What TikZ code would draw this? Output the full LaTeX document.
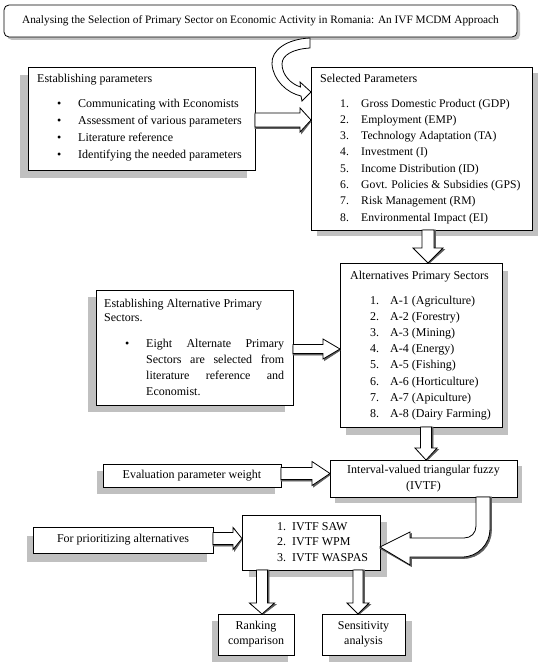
\documentclass[tikz,border=0pt]{standalone}
\usepackage{fontspec}
\setmainfont{Liberation Serif}
\usetikzlibrary{calc}
\definecolor{shadowc}{RGB}{192,192,192}
\definecolor{arrshadc}{RGB}{95,95,95}
\tikzset{
  box/.style={draw=black, line width=0.8pt, fill=white, inner sep=0pt, outer sep=0pt,
    anchor=north west, align=center, font=\fontsize{12}{15}\selectfont},
  txt/.style={inner sep=0pt, anchor=base west, font=\fontsize{12}{14}\selectfont},
  arrbody/.style={draw=black, line width=0.8pt, fill=white, line join=miter},
  arrshadow/.style={fill=arrshadc, draw=arrshadc, line width=0.6pt},
}
% shadow of a box: #1 x, #2 y (top-left), #3 width, #4 height, #5 dx, #6 dy
\newcommand\ShadowAt[6]{\fill[shadowc] ({#1+#5},{#2+#6}) rectangle ({#1+#3+#5},{#2+#4+#6});}
% right-pointing block arrow: #1 start, #2 tip (x only), #3 shaft half width, #4 head half width, #5 head length
\newcommand\RArrow[5]{%
\path[arrshadow] let \p1=#1, \p2=#2 in
 (\x1, \y1+#3-1.5pt) -- (\x2-#5+1.5pt, \y1+#3-1.5pt) -- (\x2-#5+1.5pt, \y1+#4-1.5pt) -- (\x2, \y1-1.5pt)
 -- (\x2-#5+1.5pt, \y1-#4-1.5pt) -- (\x2-#5+1.5pt, \y1-#3-1.5pt) -- (\x1, \y1-#3-1.5pt) -- cycle;
\path[arrbody] let \p1=#1, \p2=#2 in
 (\x1, \y1+#3) -- (\x2-#5, \y1+#3) -- (\x2-#5, \y1+#4) -- (\x2, \y1)
 -- (\x2-#5, \y1-#4) -- (\x2-#5, \y1-#3) -- (\x1, \y1-#3) -- cycle;}
% down-pointing block arrow: #1 start (y only), #2 tip
\newcommand\DArrow[5]{%
\path[arrshadow] let \p1=#1, \p2=#2 in
 (\x2-#3+1.5pt, \y1) -- (\x2-#3+1.5pt, \y2+#5-1.5pt) -- (\x2-#4+1.5pt, \y2+#5-1.5pt) -- (\x2+1.5pt, \y2)
 -- (\x2+#4+1.5pt, \y2+#5-1.5pt) -- (\x2+#3+1.5pt, \y2+#5-1.5pt) -- (\x2+#3+1.5pt, \y1) -- cycle;
\path[arrbody] let \p1=#1, \p2=#2 in
 (\x2-#3, \y1) -- (\x2-#3, \y2+#5) -- (\x2-#4, \y2+#5) -- (\x2, \y2)
 -- (\x2+#4, \y2+#5) -- (\x2+#3, \y2+#5) -- (\x2+#3, \y1) -- cycle;}
\begin{document}
\begin{tikzpicture}[x=1pt,y=-1pt]
\useasboundingbox (0,0) rectangle (550,666);
\fill[white] (0,0) rectangle (550,666);

% ---------- shadows ----------
\fill[shadowc, rounded corners=5pt] (7,8) rectangle (520,40);
\ShadowAt{28}{67}{227}{103}{-8}{8}
\ShadowAt{311}{67}{221}{163}{6}{6}
\ShadowAt{340}{263}{162}{164}{6}{8}
\ShadowAt{96}{290}{197}{115}{-8}{7}
\ShadowAt{103}{464}{178}{23}{-6}{7}
\ShadowAt{330}{460}{187}{37}{5}{6}
\ShadowAt{33}{527}{180}{26}{-6}{9}
\ShadowAt{242}{515}{138}{55}{7}{7}
\ShadowAt{218}{614}{76}{41}{-6}{7}
\ShadowAt{322}{614}{83}{41}{7}{7}

% ---------- boxes ----------
\node[box, rounded corners=5pt, minimum width=513pt, minimum height=32pt, font=\fontsize{11.3}{14}\selectfont] (title) at (4,5)
  {Analysing the Selection of Primary Sector on Economic Activity in Romania: An IVF MCDM Approach};
\node[box, minimum width=227pt, minimum height=103pt] (ep) at (28,67) {};
\node[box, minimum width=221pt, minimum height=163pt] (sp) at (311,67) {};
\node[box, minimum width=162pt, minimum height=164pt] (alt) at (340,263) {};
\node[box, minimum width=197pt, minimum height=115pt] (eap) at (96,290) {};
\node[box, minimum width=178pt, minimum height=23pt] (epw) at (103,464) {Evaluation parameter weight};
\node[box, minimum width=187pt, minimum height=37pt, font=\fontsize{12}{16}\selectfont] (ivtf) at (330,460)
  {Interval-valued triangular fuzzy\\(IVTF)};
\node[box, minimum width=180pt, minimum height=26pt] (fpa) at (33,527) {For prioritizing alternatives};
\node[box, minimum width=138pt, minimum height=55pt] (meth) at (242,515) {};
\node[box, minimum width=76pt, minimum height=41pt] (rank) at (218,614) {Ranking\\comparison};
\node[box, minimum width=83pt, minimum height=41pt] (sens) at (322,614) {Sensitivity\\analysis};

% ---------- texts ----------
\node[txt] (ep-h) at (37,83) {Establishing parameters};
\foreach \t [count=\i] in {{Communicating with Economists},{Assessment of various parameters},{Literature reference},{Identifying the needed parameters}}{
  \node[txt] (ep-b\i) at ({57},{107+17.3*(\i-1)}) {\textbullet};
  \node[txt] (ep-i\i) at ({78},{107+17.3*(\i-1)}) {\t};
}
\node[txt] (sp-h) at (320,83) {Selected Parameters};
\foreach \t [count=\i] in {{Gross Domestic Product (GDP)},{Employment (EMP)},{Technology Adaptation (TA)},{Investment (I)},{Income Distribution (ID)},{Govt. Policies \& Subsidies (GPS)},{Risk Management (RM)},{Environmental Impact (EI)}}{
  \node[txt, font=\fontsize{11.7}{14}\selectfont] (sp-n\i) at ({340},{107+16.3*(\i-1)}) {\i.};
  \node[txt, font=\fontsize{11.7}{14}\selectfont] (sp-i\i) at ({361},{107+16.3*(\i-1)}) {\t};
}
\node[txt] (alt-h) at (350,279) {Alternatives Primary Sectors};
\foreach \t [count=\i] in {{A-1 (Agriculture)},{A-2 (Forestry)},{A-3 (Mining)},{A-4 (Energy)},{A-5 (Fishing)},{A-6 (Horticulture)},{A-7 (Apiculture)},{A-8 (Dairy Farming)}}{
  \node[txt] (alt-n\i) at ({370},{304+16.2*(\i-1)}) {\i.};
  \node[txt] (alt-i\i) at ({390},{304+16.2*(\i-1)}) {\t};
}
\node[txt] (eap-h1) at (104,307) {Establishing Alternative Primary};
\node[txt] (eap-h2) at (104,321) {Sectors.};
\node[txt] (eap-b) at (125,347) {\textbullet};
\node[txt] (eap-p1) at (146,347) {\makebox[138pt][s]{Eight Alternate Primary}};
\node[txt] (eap-p2) at (146,363) {\makebox[138pt][s]{Sectors are selected from}};
\node[txt] (eap-p3) at (146,379.5) {\makebox[138pt][s]{literature reference and}};
\node[txt] (eap-p4) at (146,395) {Economist.};
\foreach \t [count=\i] in {{IVTF SAW},{IVTF WPM},{IVTF WASPAS}}{
  \node[txt] (m-n\i) at ({277},{530+15.5*(\i-1)}) {\i.};
  \node[txt] (m-i\i) at ({292},{530+15.5*(\i-1)}) {\t};
}

% ---------- straight block arrows ----------
\RArrow{([yshift=-1.5pt]ep.east)}{(sp.west)}{7pt}{12pt}{11pt}
\RArrow{([yshift=-1.5pt]eap.east)}{(alt.west)}{4.5pt}{10pt}{17pt}
\RArrow{([yshift=2pt]epw.east)}{(ivtf.west)}{6pt}{12pt}{18pt}
\RArrow{([yshift=1.5pt]fpa.east)}{(meth.west)}{6pt}{11pt}{9pt}
\DArrow{(sp.south)}{([xshift=7pt]alt.north)}{6pt}{15pt}{15pt}
\DArrow{(alt.south)}{([xshift=2.5pt]ivtf.north)}{5.5pt}{11pt}{12pt}
\DArrow{(meth.south)}{([xshift=6pt]rank.north)}{5.5pt}{12.5pt}{11pt}
\DArrow{(meth.south)}{([xshift=-5.5pt]sens.north)}{5pt}{11pt}{11pt}

% ---------- curved block arrows ----------
\path[arrbody] (310,38) .. controls (287,39) and (271,50) .. (272,64)
  .. controls (273,80) and (287,93) .. (301,96) -- (302,101) -- (311,92) -- (300,82) -- (300.5,87)
  .. controls (291,84) and (282,75) .. (282,64) .. controls (282,55) and (293,49) .. (310,48) -- cycle;
\foreach \o/\s in {1.5pt/arrshadow,0pt/arrbody}{
\path[\s] let \p1=([xshift=59.5pt]ivtf.south), \p2=([yshift=-4.5pt]meth.east) in
  (\x1-7pt+\o, \y1) -- (\x1-7pt+\o, \y2+21pt-\o)
  .. controls (\x1-7pt+\o, \y2+14pt-\o) and (\x1-12pt+\o, \y2+9pt-\o) .. (\x1-19pt+\o, \y2+9pt-\o)
  -- (\x2+30pt+\o, \y2+9pt-\o) -- (\x2+30pt+\o, \y2+15pt-\o) -- (\x2, \y2-\o)
  -- (\x2+30pt+\o, \y2-18pt-\o) -- (\x2+30pt+\o, \y2-10pt-\o) -- (\x1-21pt+\o, \y2-10pt-\o)
  .. controls (\x1-5pt+\o, \y2-10pt-\o) and (\x1+7pt+\o, \y2+3pt-\o) .. (\x1+7pt+\o, \y2+18pt-\o)
  -- (\x1+7pt+\o, \y1) -- cycle;
}
\end{tikzpicture}
\end{document}
